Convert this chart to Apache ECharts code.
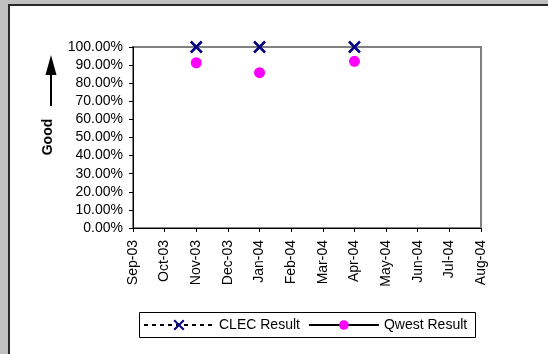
<!DOCTYPE html>
<html><head><meta charset="utf-8">
<script src="https://cdn.jsdelivr.net/npm/echarts@6/dist/echarts.min.js"></script>
<style>html,body{margin:0;padding:0;background:#c0c0c0;}#c{width:548px;height:354px;}</style>
</head><body><div id="c"></div>
<script>
const months = ['Sep-03','Oct-03','Nov-03','Dec-03','Jan-04','Feb-04','Mar-04','Apr-04','May-04','Jun-04','Jul-04','Aug-04'];
const clecResult = [null,null,1.00,null,1.00,null,null,1.00,null,null,null,null];
const qwestResult = [null,null,0.913,null,0.858,null,null,0.921,null,null,null,null];
const yTicks = [0,0.1,0.2,0.3,0.4,0.5,0.6,0.7,0.8,0.9,1.0];

const chart = echarts.init(document.getElementById('c'));
const font = 'Arial, "Liberation Sans", sans-serif';
chart.setOption({
  animation:false,
  textStyle:{fontFamily:font},
  graphic:[
    {type:'rect',z:-10,shape:{x:9,y:5,width:560,height:360},style:{fill:'#fff',stroke:'#2a2a2a',lineWidth:2}},
    {type:'text',x:48,y:137,rotation:Math.PI/2,style:{text:'Good',font:'bold 14px '+font,fill:'#000',align:'center',verticalAlign:'middle'}},
    {type:'line',shape:{x1:51,y1:72,x2:51,y2:106},style:{stroke:'#000',lineWidth:2}},
    {type:'polygon',shape:{points:[[51,55],[45.5,75],[56.5,75]]},style:{fill:'#000'}},
    {type:'rect',shape:{x:139.5,y:312.5,width:336,height:25},style:{fill:'none',stroke:'#000',lineWidth:1}}
  ],
  grid:{left:133,right:67,top:47,bottom:126,show:true,borderColor:'#808080',borderWidth:2,backgroundColor:'transparent'},
  legend:{
    left:143,top:318,padding:0,itemWidth:70,itemHeight:12,itemGap:8,
    textStyle:{fontSize:14,color:'#000',fontFamily:font},
    data:['CLEC Result','Qwest Result']
  },
  xAxis:{
    type:'category',data:months,boundaryGap:false,
    axisLine:{lineStyle:{color:'#000',width:1}},
    axisTick:{show:true,length:4,interval:0,lineStyle:{color:'#000'}},
    axisLabel:{rotate:90,interval:0,fontSize:14,color:'#000',margin:12,fontFamily:font},
    splitLine:{show:false}
  },
  yAxis:{
    type:'value',min:0,max:1,interval:0.1,
    axisLine:{show:true,lineStyle:{color:'#000',width:1}},
    axisTick:{show:true,length:4,lineStyle:{color:'#000'}},
    axisLabel:{fontSize:14,color:'#000',margin:10,fontFamily:font,formatter:v=>(v*100).toFixed(2)+'%'},
    splitLine:{show:false}
  },
  series:[
    {name:'CLEC Result',type:'line',data:clecResult,connectNulls:false,
     symbol:'path://M0,0 L10,10 M10,0 L0,10',symbolSize:11,
     itemStyle:{color:'#000080',borderColor:'#000080',borderWidth:2.5},
     lineStyle:{color:'#000',type:[4,4],width:2.5},z:3},
    {name:'Qwest Result',type:'line',data:qwestResult,connectNulls:false,
     symbol:'circle',symbolSize:11,
     itemStyle:{color:'#ff00ff',borderColor:'#ff00ff',borderWidth:0},
     lineStyle:{color:'#000',type:'solid',width:2},z:2}
  ]
});
</script></body></html>
